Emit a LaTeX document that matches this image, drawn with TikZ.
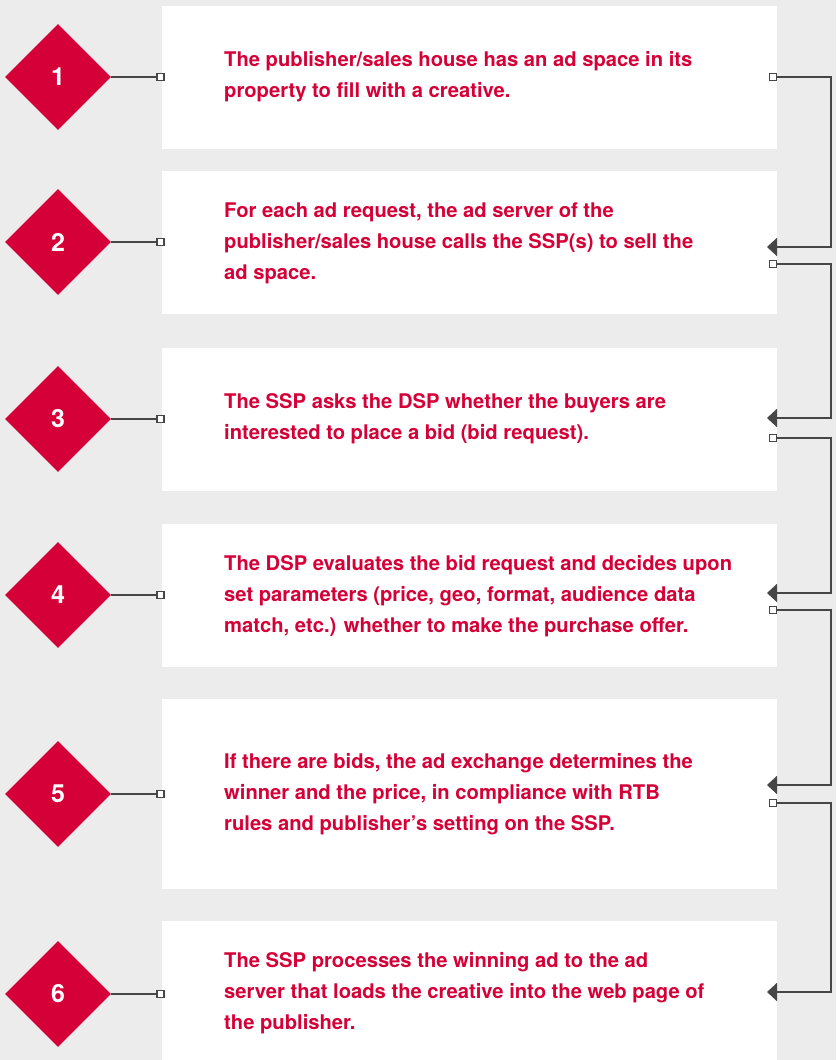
\documentclass[tikz,border=0pt]{standalone}
\usepackage{fontspec}
\setmainfont{TeX Gyre Heros}
\usetikzlibrary{arrows.meta,shapes.geometric}
\definecolor{bgc}{HTML}{ECECEC}
\definecolor{crim}{HTML}{D50037}
\definecolor{conn}{HTML}{464646}
\tikzset{
  panel/.style={fill=white, draw=none, minimum width=615pt, inner sep=0pt, anchor=north west},
  dia/.style={shape=diamond, fill=crim, draw=none, minimum width=106pt, minimum height=106pt, inner sep=0pt, text=white, font=\fontsize{25}{25}\selectfont\bfseries},
  txt/.style={text=crim, anchor=west, align=left, inner sep=0pt, font=\fontsize{20.2}{31}\selectfont\bfseries},
  sq/.style={draw=conn, fill=white, line width=1.3pt, minimum size=7pt, inner sep=0pt},
  conline/.style={draw=conn, line width=2pt},
  arr/.style={conline, -{Triangle[length=10pt,width=18pt]}}
}
\begin{document}
\begin{tikzpicture}[x=1pt,y=-1pt]
\useasboundingbox (0,0) rectangle (836,1060);
\fill[bgc] (0,0) rectangle (836,1060);
% panels
\node[panel, minimum height=143pt] (b1) at (162,6) {};
\node[panel, minimum height=143pt] (b2) at (162,171) {};
\node[panel, minimum height=143pt] (b3) at (162,348) {};
\node[panel, minimum height=143pt] (b4) at (162,524) {};
\node[panel, minimum height=190pt] (b5) at (162,699) {};
\node[panel, minimum height=139pt] (b6) at (162,921) {};
% diamonds
\foreach \i/\y in {1/77,2/242,3/419,4/595,5/794,6/994}{
  \node[dia] (d\i) at (58,\y) {\raisebox{-1pt}{\i}};
  \node[sq] (l\i) at (160.5,\y) {};
  \draw[conline] (d\i.east) -- (l\i.west);
}
% texts
\node[txt] (t1) at (224,77) {The publisher/sales house has an ad space in its\\property to fill with a creative.};
\node[txt] (t2) at (224,243) {For each ad request, the ad server of the\\publisher/sales house calls the SSP(s) to sell the\\ad space.};
\node[txt] (t3) at (224,419) {The SSP asks the DSP whether the buyers are\\interested to place a bid (bid request).};
\node[txt] (t4) at (224,596) {The DSP evaluates the bid request and decides upon\\set parameters (price, geo, format, audience data\\match, etc.) whether to make the purchase offer.};
\node[txt] (t5) at (224,794) {If there are bids, the ad exchange determines the\\winner and the price, in compliance with RTB\\rules and publisher’s setting on the SSP.};
\node[txt] (t6) at (224,993) {The SSP processes the winning ad to the ad\\server that loads the creative into the web page of\\the publisher.};
% right connectors
\foreach \i/\y in {1/77,2/264,3/438,4/610,5/803}{
  \node[sq] (r\i) at (773,\y) {};
}
\foreach \j/\y in {2/247,3/418,4/593,5/785,6/992}{
  \coordinate (a\j) at (767,\y);
}
\foreach \i/\j in {1/2,2/3,3/4,4/5,5/6}{
  \draw[arr] (r\i.east) -- (r\i.east -| 831,0) |- (a\j);
}
\end{tikzpicture}
\end{document}
